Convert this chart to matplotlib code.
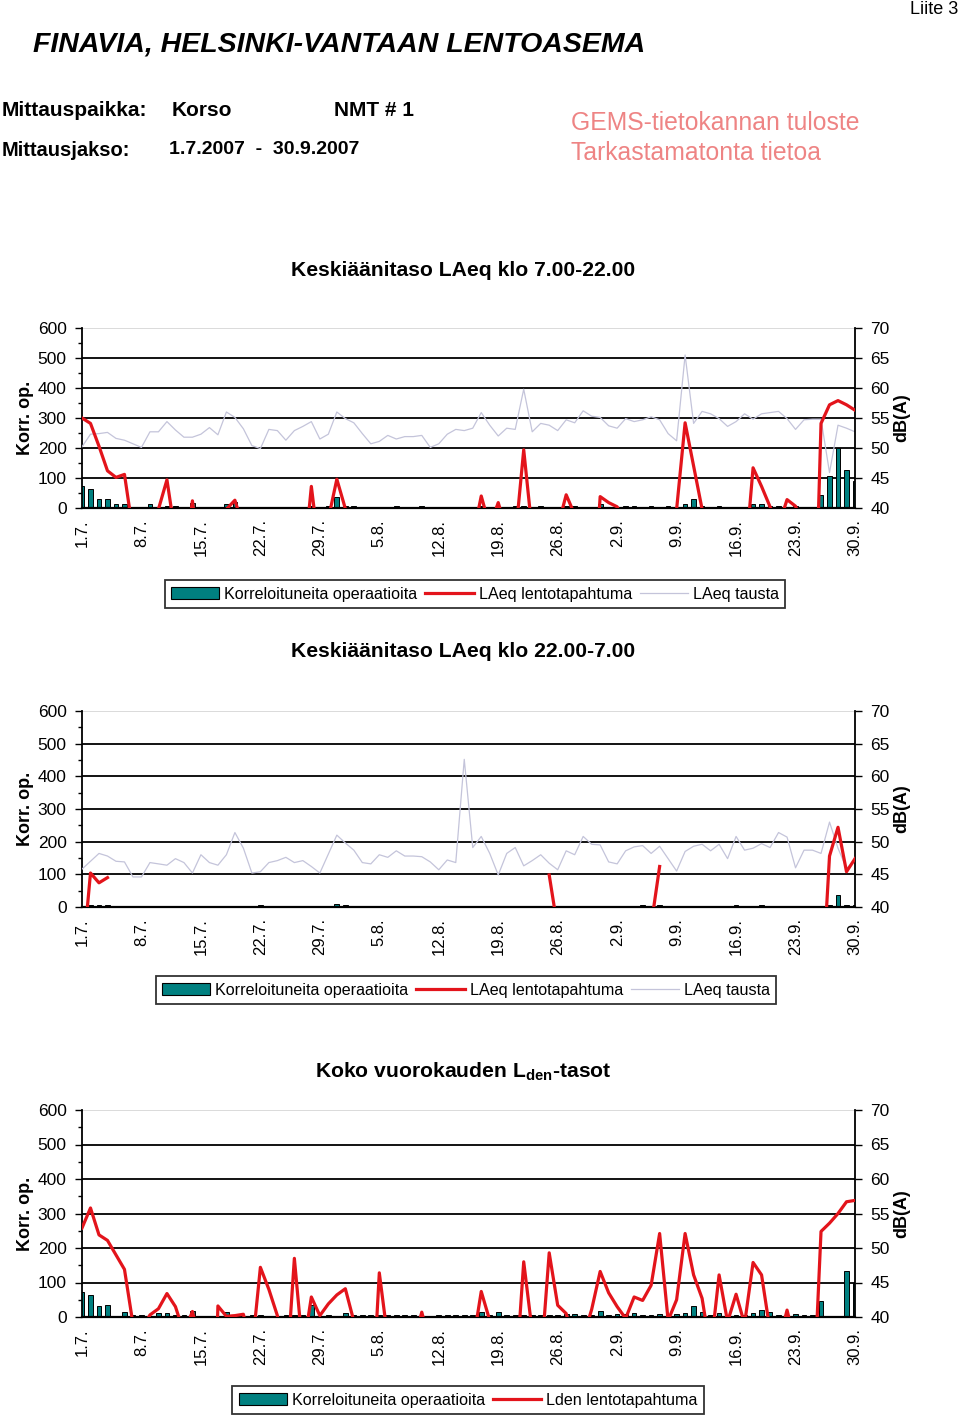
import matplotlib
matplotlib.use('Agg')
import matplotlib.pyplot as plt
from matplotlib import font_manager
from matplotlib.patches import Patch
from matplotlib.lines import Line2D
import numpy as np

nan = np.nan

# 92 days, 1.7.2007 - 30.9.2007
date_labels = ['1.7.', '8.7.', '15.7.', '22.7.', '29.7.', '5.8.', '12.8.',
               '19.8.', '26.8.', '2.9.', '9.9.', '16.9.', '23.9.', '30.9.']

# --- Keskiäänitaso LAeq klo 7.00-22.00 ---
day_ops = [75, 65, 29, 29, 12, 12, 5, 5, 12, 5, 8, 8, 5, 18, 5, 0, 5, 12, 21, 5,
           5, 5, 5, 5, 5, 0, 5, 8, 0, 8, 38, 8, 8, 5, 5, 5, 5, 8, 5, 5,
           8, 5, 5, 5, 5, 5, 5, 8, 5, 5, 5, 8, 8, 0, 8, 5, 5, 8, 8, 0,
           5, 15, 5, 0, 8, 8, 5, 8, 5, 8, 5, 12, 29, 8, 5, 8, 5, 5, 5, 12,
           12, 8, 8, 5, 8, 5, 5, 43, 108, 199, 127, 90]
day_event = [55.0, 54.1, 50.3, 46.2, 45.1, 45.6, 36, 36, 36, 39.8, 44.7, 35.3, 30, 41.2, 30, 36, 36, 39.8, 41.3, 36.7,
             36, 36, 36, 36, 36, 36, 29, 43.6, 32, 38.2, 44.8, 39.9, 36, 36, 36, 36, 36, 36, 36, 36,
             36, 36, 36, 36, 36, 36, 35, 42.0, 36.9, 40.9, 36, 34.8, 49.7, 36, 36, 36, 36.8, 42.2, 38.9, 36,
             20, 41.9, 40.9, 40.2, 37, 39, 36, 36, 36, 39, 39.8, 54.2, 47.0, 39.8, 36, 36, 36, 36, 30, 46.7,
             43.6, 40.2, 37, 41.4, 40.3, 37, 5, 54.1, 57.2, 57.9, 57.2, 56.3]
day_bg = [50.2, 52.3, 52.4, 52.6, 51.6, 51.3, 50.7, 50.1, 52.7, 52.7, 54.4, 53.0, 51.8, 51.8, 52.3, 53.4, 52.2, 56.0, 55.1, 53.2,
          50.4, 49.9, 53.1, 52.9, 51.3, 52.9, 53.6, 54.4, 51.5, 52.3, 56.0, 54.9, 54.2, 52.4, 50.7, 51.1, 52.1, 51.5, 51.9, 51.9,
          52.1, 50.1, 50.7, 52.3, 53.1, 52.9, 53.3, 55.9, 53.8, 52.0, 53.3, 53.1, 59.8, 52.7, 54.1, 53.8, 52.9, 54.7, 54.2, 56.2,
          55.3, 55.1, 53.7, 53.3, 54.9, 54.4, 54.7, 55.2, 54.7, 52.4, 51.2, 65.5, 54.1, 56.1, 55.7, 54.9, 53.6, 54.4, 55.7, 54.8,
          55.7, 55.9, 56.1, 54.9, 53.1, 54.7, 54.8, 54.8, 45.9, 53.8, 53.3, 52.7]

# --- Keskiäänitaso LAeq klo 22.00-7.00 ---
night_ops = [0, 5, 5, 5, 0, 0, 0, 0, 0, 0, 0, 0, 0, 0, 0, 0, 0, 0, 0, 0,
             0, 5, 0, 0, 0, 0, 0, 0, 0, 0, 8, 5, 0, 0, 0, 0, 0, 0, 0, 0,
             0, 0, 0, 0, 0, 0, 0, 0, 0, 0, 0, 0, 0, 0, 0, 0, 0, 0, 0, 0,
             0, 0, 0, 0, 0, 0, 5, 0, 5, 0, 0, 0, 0, 0, 0, 0, 0, 5, 0, 0,
             5, 0, 0, 0, 0, 0, 0, 0, 6, 36, 6, 6]
night_event = [31, 45.2, 43.7, 44.5] + [nan] * 51 + [44.9, 36.7] + [nan] * 10 + \
              [37.2, 46.2] + [nan] * 18 + [25, 47.8, 52.2, 45.4, 47.4]
night_bg = [45.8, 47.0, 48.2, 47.8, 47.0, 46.9, 44.6, 44.6, 46.8, 46.6, 46.4, 47.4, 46.8, 45.2, 48.0, 46.8, 46.4, 48.0, 51.4, 49.0,
            45.2, 45.4, 46.8, 47.1, 47.6, 46.8, 47.1, 46.2, 45.2, 48.1, 51.0, 49.8, 48.7, 46.8, 46.6, 48.0, 47.6, 48.6, 47.8, 47.8,
            47.7, 46.9, 45.7, 47.2, 46.8, 62.6, 49.1, 50.8, 48.2, 44.9, 48.2, 49.1, 46.3, 47.1, 48.0, 46.7, 45.7, 48.6, 48.0, 50.8,
            49.6, 49.5, 46.9, 46.6, 48.6, 49.2, 49.4, 48.2, 49.3, 47.4, 45.5, 48.5, 49.3, 49.6, 48.6, 49.6, 47.4, 50.8, 48.7, 49.0,
            49.7, 49.1, 51.4, 50.7, 46.0, 48.7, 48.7, 48.2, 53.0, 49.0, 45.9, 47.2]

# --- Koko vuorokauden Lden-tasot ---
lden_ops = [73, 65, 31, 34, 0, 15, 5, 7, 0, 12, 12, 7, 5, 17, 0, 0, 0, 15, 0, 0,
            5, 7, 0, 0, 7, 5, 7, 36, 0, 7, 0, 12, 7, 5, 5, 7, 5, 7, 7, 5,
            0, 0, 5, 5, 5, 5, 5, 15, 7, 15, 5, 7, 7, 5, 5, 7, 5, 10, 10, 5,
            7, 18, 7, 10, 10, 12, 7, 7, 10, 7, 10, 12, 31, 15, 7, 12, 5, 7, 5, 12,
            20, 15, 7, 5, 10, 5, 5, 47, 0, 0, 134, 99]
lden_event = [52.9, 55.8, 51.9, 51.1, 49.0, 46.9, 39.0, 38, 40.3, 41.2, 43.4, 41.5, 37.7, 40.8, 36, 0, 41.6, 40.1, 40.2, 40.4,
              35, 47.2, 44.0, 40.2, 30, 48.5, 35, 42.9, 40.2, 41.9, 43.2, 44.1, 39.4, 30, 24, 46.4, 36.8, 36, 36, 36,
              40.7, 36, 36, 36, 36, 36, 36, 43.7, 39.5, 36, 36, 30, 48.0, 37.9, 33, 49.3, 41.7, 40.5, 36, 37,
              41.1, 46.6, 43.5, 41.5, 39.8, 42.9, 42.4, 44.6, 52.1, 39.5, 42.5, 52.1, 46.1, 42.7, 35, 46.1, 39.3, 43.3, 39, 47.9,
              46.1, 38, 36, 41.0, 36, 36, 25, 52.4, 53.6, 55.0, 56.7, 56.9]

names = {f.name for f in font_manager.fontManager.ttflist}
NARROW = 'Liberation Sans Narrow' if 'Liberation Sans Narrow' in names else 'Liberation Sans'
plt.rcParams['font.family'] = [NARROW, 'DejaVu Sans']
plt.rcParams['mathtext.fontset'] = 'custom'
plt.rcParams['mathtext.rm'] = NARROW + ':bold'

TEAL = '#008080'
RED = '#e3141b'
GRAY = '#c4c4da'

W, H = 960, 1418
fig = plt.figure(figsize=(W / 100, H / 100), dpi=100)


def fx(px):
    return px / W


def fy(py):
    return 1 - py / H


def draw_panel(top, bottom, ops, event, bg=None):
    ax = fig.add_axes([fx(82), fy(bottom), fx(855 - 82), (bottom - top) / H])
    days = np.arange(len(ops))
    ax.bar(days, ops, width=0.55, color=TEAL, edgecolor='black', linewidth=0.7, zorder=2)
    ax.set_xlim(0, len(ops) - 1)
    ax.set_ylim(0, 600)
    ax.set_yticks(range(0, 601, 100))
    ax.set_yticks(range(50, 600, 100), minor=True)
    for v in range(100, 600, 100):
        ax.axhline(v, color='black', linewidth=1.3, zorder=1)
    ax.axhline(600, color='#d8d8d8', linewidth=1.3, zorder=1)
    ax.set_xticks(days[::7])
    ax.set_xticklabels(date_labels, rotation=90, fontsize=12)
    ax.tick_params(axis='x', length=0, pad=8)
    ax.tick_params(axis='y', which='major', length=5, width=1, labelsize=12.5, pad=6)
    ax.tick_params(axis='y', which='minor', length=3, width=1)
    ax.spines['top'].set_visible(False)
    ax.spines['right'].set_visible(False)
    ax.spines['left'].set_linewidth(1.3)
    ax.spines['bottom'].set_linewidth(1.6)
    ax.spines['bottom'].set_zorder(3)

    ax2 = ax.twinx()
    ax2.set_ylim(40, 70)
    ax2.set_yticks(range(40, 71, 5))
    ax2.tick_params(axis='y', length=5, width=1, labelsize=12.5, pad=6)
    for s in ['top', 'left', 'bottom']:
        ax2.spines[s].set_visible(False)
    ax2.spines['right'].set_linewidth(1.3)
    if bg is not None:
        ax2.plot(days, bg, color=GRAY, linewidth=0.9, zorder=2)
    ax2.plot(days, event, color=RED, linewidth=2.3, zorder=3)

    mid = (top + bottom) / 2
    fig.text(fx(26), fy(mid), 'Korr. op.', rotation=90, ha='center', va='center',
             fontsize=13, fontweight='bold')
    fig.text(fx(902), fy(mid), 'dB(A)', rotation=90, ha='center', va='center',
             fontsize=13, fontweight='bold')
    return ax


def add_legend(cx, cy, with_bg, red_label):
    handles = [Patch(facecolor=TEAL, edgecolor='black', linewidth=0.8),
               Line2D([], [], color=RED, linewidth=2.3)]
    labels = ['Korreloituneita operaatioita', red_label]
    if with_bg:
        handles.append(Line2D([], [], color=GRAY, linewidth=0.9))
        labels.append('LAeq tausta')
    leg = fig.legend(handles, labels, loc='center', bbox_to_anchor=(fx(cx), fy(cy)),
                     ncol=len(handles), fontsize=11.6, frameon=True, fancybox=False,
                     edgecolor='black', handlelength=3.0, handleheight=0.8,
                     handletextpad=0.3, columnspacing=0.5, borderpad=0.4)
    leg.get_frame().set_linewidth(1.3)


# header
fig.text(fx(958), fy(9), 'Liite 3', ha='right', va='center', fontsize=13)
fig.text(fx(33), fy(45), 'FINAVIA, HELSINKI-VANTAAN LENTOASEMA', ha='left', va='center',
         fontsize=20.5, fontweight='bold', style='italic')
fig.text(fx(2), fy(111), 'Mittauspaikka:', ha='left', va='center', fontsize=15, fontweight='bold')
fig.text(fx(172), fy(111), 'Korso', ha='left', va='center', fontsize=15, fontweight='bold')
fig.text(fx(334), fy(111), 'NMT # 1', ha='left', va='center', fontsize=15, fontweight='bold')
fig.text(fx(2), fy(150), 'Mittausjakso:', ha='left', va='center', fontsize=14.5, fontweight='bold')
fig.text(fx(169), fy(150), '1.7.2007  -  30.9.2007', ha='left', va='center', fontsize=14, fontweight='bold')
fig.text(fx(571), fy(123), 'GEMS-tietokannan tuloste', ha='left', va='center', fontsize=17.8, color='#ee8484')
fig.text(fx(571), fy(153), 'Tarkastamatonta tietoa', ha='left', va='center', fontsize=17.8, color='#ee8484')

# panels
fig.text(fx(463), fy(270), 'Keskiäänitaso LAeq klo 7.00-22.00', ha='center', va='center',
         fontsize=15.2, fontweight='bold')
draw_panel(328, 508, day_ops, day_event, day_bg)
add_legend(475, 594, True, 'LAeq lentotapahtuma')

fig.text(fx(463), fy(651), 'Keskiäänitaso LAeq klo 22.00-7.00', ha='center', va='center',
         fontsize=15.2, fontweight='bold')
draw_panel(711, 907, night_ops, night_event, night_bg)
add_legend(466, 990, True, 'LAeq lentotapahtuma')

fig.text(fx(463), fy(1072), r'Koko vuorokauden L$_{\mathrm{den}}$-tasot', ha='center', va='center',
         fontsize=15.2, fontweight='bold')
draw_panel(1110, 1317, lden_ops, lden_event)
add_legend(468, 1400, False, 'Lden lentotapahtuma')

fig.savefig('out.png', dpi=100)
